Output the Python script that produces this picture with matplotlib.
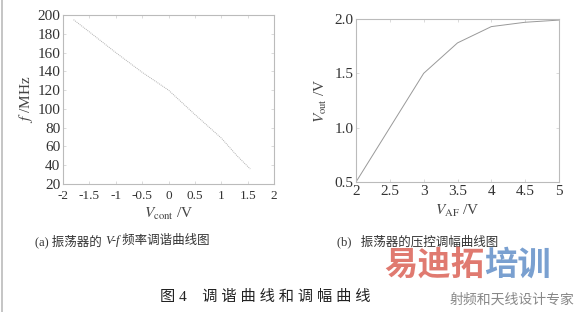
import matplotlib.pyplot as plt

plt.rcParams['font.family'] = ['Liberation Serif', 'Noto Sans CJK SC']
plt.rcParams['mathtext.fontset'] = 'stix'

# (a) V-f tuning curve
v_cont = [-1.8, -1.5, -1.0, -0.5, 0.0, 0.5, 1.0, 1.3, 1.55]
freq = [195, 182, 160, 139, 120, 94, 69, 50, 36]

# (b) amplitude control curve
v_af = [2.0, 2.5, 3.0, 3.5, 4.0, 4.5, 5.0]
v_out = [0.5, 1.0, 1.5, 1.78, 1.93, 1.97, 1.99]

fig = plt.figure(figsize=(5.77, 3.12), dpi=100)

ax1 = fig.add_axes([63/577, 1-184/312, (274-63)/577, (184-15)/312])
ax1.plot(v_cont, freq, color='#b0b0b0', lw=0.7, ls=(0, (1, 1)))
ax1.set_xlim(-2, 2)
ax1.set_ylim(20, 200)
ax1.set_xticks([-2, -1.5, -1, -0.5, 0, 0.5, 1, 1.5, 2])
ax1.set_xticklabels(['-2', '-1.5', '-1', '-0.5', '0', '0.5', '1', '1.5', '2'])
ax1.set_yticks(range(20, 201, 20))
ax1.set_xlabel(r'$V_{\rm cont}$ /V', fontsize=11, color='#444444', labelpad=3)
ax1.set_ylabel(r'$f$ /MHz', fontsize=11, color='#444444', labelpad=2)

ax2 = fig.add_axes([356/577, 1-182/312, (559-356)/577, (182-19)/312])
ax2.plot(v_af, v_out, color='#999999', lw=0.7)
ax2.set_xlim(2, 5)
ax2.set_ylim(0.5, 2.0)
ax2.set_xticks([2, 2.5, 3, 3.5, 4, 4.5, 5])
ax2.set_xticklabels(['2', '2.5', '3', '3.5', '4', '4.5', '5'])
ax2.set_yticks([0.5, 1.0, 1.5, 2.0])
ax2.set_yticklabels(['0.5', '1.0', '1.5', '2.0'])
ax2.set_xlabel(r'$V_{\rm AF}$ /V', fontsize=11, color='#444444', labelpad=4)
ax2.set_ylabel(r'$V_{\rm out}$ /V', fontsize=11, color='#444444', labelpad=4)

for ax in (ax1, ax2):
    ax.tick_params(direction='in', length=2, width=0.5, colors='#cccccc',
                   labelcolor='#333333', labelsize=11, pad=2, top=True, right=True)
    for s in ax.spines.values():
        s.set_color('#bbbbbb')
        s.set_linewidth(0.8)
ax1.tick_params(axis='x', labelsize=9.5, pad=4)

# captions, chained so the pieces sit side by side
cap = dict(fontsize=9, color='#333333', va='center')
t1 = fig.text(35/577, 1-241/312, '(a) 振荡器的 ', ha='left', **cap)
t2 = ax1.annotate('V-f', xy=(1, 0.5), xycoords=t1, ha='left', style='italic',
                  annotation_clip=False, **cap)
ax1.annotate(' 频率调谐曲线图', xy=(1, 0.5), xycoords=t2, ha='left',
             annotation_clip=False, **cap)
fig.text(418/577, 1-241/312, '(b)   振荡器的压控调幅曲线图', ha='center', **cap)
fig.text(265/577, 1-297/312, '图 4    调 谐 曲 线 和 调 幅 曲 线', ha='center', va='center',
         fontsize=11, color='#222222')

# watermark
w1 = fig.text(384/577, 1-266/312, '易迪拓', ha='left', va='center', fontsize=24,
              color='#e07a70', fontweight='bold')
ax1.annotate('培训', xy=(1, 0.5), xycoords=w1, ha='left', va='center', fontsize=24,
             color='#7aa0d0', fontweight='bold', annotation_clip=False)
fig.text(574/577, 1-300/312, '射频和天线设计专家', ha='right', va='center', fontsize=10,
         color='#888888')

fig.add_artist(plt.Line2D([2/577, 2/577], [0, 1], color='#bbbbbb', lw=1.2))

fig.savefig('out.png', dpi=100)
